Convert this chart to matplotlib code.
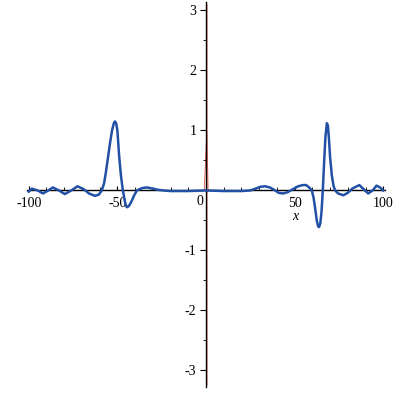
import matplotlib
matplotlib.use("Agg")
import matplotlib.pyplot as plt
from matplotlib.ticker import MultipleLocator

# blue curve, values
curve_x = [-100, -98.3, -95, -92, -89, -86.4, -83, -79.7, -76, -72.5, -69, -66,
           -62.7, -60.5, -58.8, -57.5, -56.5, -55.2, -54, -53, -52, -51.4, -50.7,
           -50, -49, -48, -47, -46, -45.3, -44.6, -43.5, -42, -40.5, -39, -36,
           -33.3, -30, -27, -24, -20, -10, 0,
           10, 20, 25, 28, 30.5, 33.3, 36, 38.5, 41, 43.5, 46, 49, 52, 54.8, 56.5,
           58.2, 59.7, 60.7, 61.6, 62.5, 63.3, 63.8, 64.5, 65.2, 65.9, 66.3, 66.8,
           67.4, 68.2, 68.8, 69.4, 70, 71, 72, 72.9, 74.5, 77.5, 80, 82.5, 86.5,
           89, 91.5, 94, 96.2, 98.2, 100]
curve_y = [-0.02, 0.03, 0.0, -0.05, 0.0, 0.05, 0.0, -0.06, 0.0, 0.07, 0.02, -0.05,
           -0.09, -0.07, 0.0, 0.12, 0.30, 0.57, 0.82, 1.00, 1.12, 1.15, 1.12,
           1.00, 0.57, 0.25, 0.02, -0.15, -0.24, -0.28, -0.26, -0.18, -0.08, 0.0, 0.04,
           0.05, 0.03, 0.01, 0.0, -0.01, -0.01, 0.0,
           -0.01, -0.01, 0.0, 0.03, 0.06, 0.07, 0.05, 0.01, -0.04, -0.05, -0.03, 0.02, 0.07, 0.09, 0.09,
           0.05, 0.0, -0.12, -0.30, -0.50, -0.60, -0.61, -0.55, -0.35, 0.0, 0.25, 0.56,
           0.90, 1.12, 1.08, 0.85, 0.56, 0.25, 0.07, 0.0, -0.05, -0.08, -0.04, 0.03, 0.09,
           0.02, -0.05, 0.0, 0.08, 0.05, 0.0]

# red curve: spike at the origin, then running along the y axis
red_x = [-1.0, 0.5, 1.2]
red_y = [0.0, 1.0, 0.0]
red_line_x = [0.6, 0.6]
red_line_y = [-3.25, 3.1]

xticks = [-100, -50, 50, 100]
yticks = [-3, -2, -1, 1, 2, 3]

fig = plt.figure(figsize=(3.95, 3.96), dpi=100)
ax = fig.add_axes([27 / 395, 1 - 386.7 / 396, 358 / 395, 384.7 / 396])
ax.set_xlim(-101, 101)
ax.set_ylim(-3.27, 3.14)

ax.plot(red_x, red_y, color="#d8553f", lw=0.6, zorder=1.5)
ax.plot(red_line_x, red_line_y, color="#e07a66", lw=0.4, zorder=1.5)
ax.plot(curve_x, curve_y, color="#2150a6", lw=1.8, zorder=4, solid_joinstyle="round")

for s in ["top", "right"]:
    ax.spines[s].set_visible(False)
ax.spines["left"].set_position("zero")
ax.spines["bottom"].set_position("zero")
ax.spines["left"].set_linewidth(1.0)
ax.spines["bottom"].set_linewidth(1.0)

font = {"family": "Liberation Serif", "size": 10}
ax.set_xticks(xticks)
ax.set_xticklabels([str(t) for t in xticks], fontdict=font)
ax.set_yticks(yticks)
ax.set_yticklabels([str(t) for t in yticks], fontdict=font)
ax.xaxis.set_minor_locator(MultipleLocator(10))
ax.yaxis.set_minor_locator(MultipleLocator(0.5))
ax.tick_params(axis="x", which="major", direction="in", length=3, width=0.8, pad=5)
ax.tick_params(axis="x", which="minor", direction="in", length=2, width=0.6)
ax.tick_params(axis="y", which="major", direction="out", length=4, width=0.8, pad=3)
ax.tick_params(axis="y", which="minor", direction="out", length=2, width=0.6)

ax.text(-3.4, -0.19, "0", ha="center", va="center", **font)
ax.text(50.3, -0.44, "x", ha="center", va="center", style="italic",
        family="Liberation Serif", size=10)

fig.savefig("out.png", dpi=100, facecolor="white")
